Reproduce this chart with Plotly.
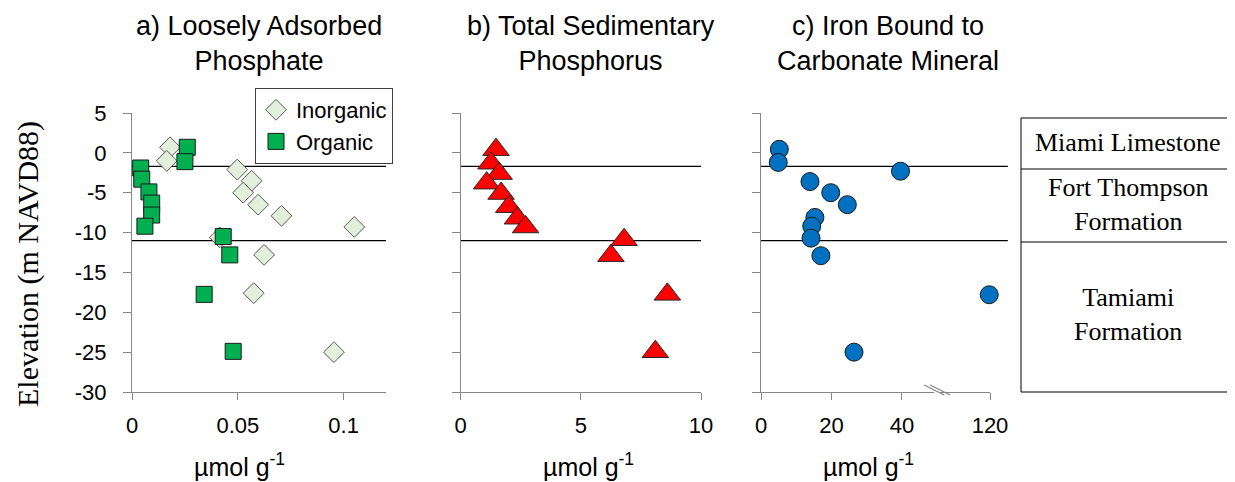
import plotly.graph_objects as go

# the page body adds an 8px margin; the figure is offset by it so screenshot coordinates line up
OFF = 8
W, H = 1235 - OFF, 482 - OFF

# ---------------- data ----------------
elev_a_inorg = [0.7, -1.0, -2.1, -3.5, -5.0, -6.5, -7.9, -9.3, -10.6, -12.8, -17.6, -25.0]
lap_inorg = [0.018, 0.0164, 0.0497, 0.0565, 0.0525, 0.0596, 0.0706, 0.105, 0.0415, 0.0624, 0.0575, 0.0954]
elev_a_org = [0.7, -1.1, -1.9, -3.3, -4.9, -6.3, -7.8, -9.2, -10.5, -12.8, -17.75, -24.9]
lap_org = [0.0261, 0.025, 0.0041, 0.0046, 0.008, 0.0093, 0.0093, 0.0061, 0.0431, 0.0462, 0.0341, 0.0478]

elev_b = [0.4, -1.3, -2.6, -3.8, -5.1, -6.75, -8.2, -9.3, -10.9, -12.9, -17.75, -24.95]
tsp = [1.47, 1.26, 1.6, 1.08, 1.68, 2.0, 2.36, 2.7, 6.8, 6.25, 8.6, 8.1]

elev_c = [0.45, -1.2, -2.3, -3.6, -5.0, -6.5, -8.1, -9.2, -10.7, -12.9, -17.8, -25.0]
fe_carb = [5.2, 4.9, 39.6, 13.9, 19.8, 24.5, 15.3, 14.4, 14.2, 17.0, 119.0, 26.4]

boundaries = [-1.7, -11.0]
formations = ["Miami Limestone", "Fort Thompson<br>Formation", "Tamiami<br>Formation"]
titles = ["a) Loosely Adsorbed<br>Phosphate", "b) Total Sedimentary<br>Phosphorus",
          "c) Iron Bound to<br>Carbonate Mineral"]
y_ticks = [5, 0, -5, -10, -15, -20, -25, -30]
y_ticktext = ["5", "0", "-5", "-10", "-15", "-20", "-25", "-30"]
a_ticks, a_ticktext = [0, 0.05, 0.1], ["0", "0.05", "0.1"]
b_ticks, b_ticktext = [0, 5, 10], ["0", "5", "10"]
c_ticks = [0, 20, 40, 120]

# broken axis for panel c: linear to 50, compressed above
BREAK, TOP, TOP_DISP = 50.0, 120.0, 65.0
def c_map(v):
    if v <= BREAK:
        return v
    return BREAK + (v - BREAK) * (TOP_DISP - BREAK) / (TOP - BREAK)

def px(x):
    return (x - OFF) / W
def py(y):
    return 1 - (y - OFF) / H

SANS = "Liberation Sans, Arial, sans-serif"
SERIF = "Liberation Serif, Times New Roman, serif"
AX = "#868686"

ydom = [py(392), py(113)]
xdoms = [[px(132), px(386)], [px(460.7), px(701)], [px(761), px(990)]]

fig = go.Figure()
fig.add_trace(go.Scatter(x=lap_inorg, y=elev_a_inorg, mode="markers", name="Inorganic",
                         marker=dict(symbol="diamond", size=16, color="#E2EFDA",
                                     line=dict(color="#595959", width=1)),
                         cliponaxis=False, xaxis="x", yaxis="y"))
fig.add_trace(go.Scatter(x=lap_org, y=elev_a_org, mode="markers", name="Organic",
                         marker=dict(symbol="square", size=16, color="#00B050",
                                     line=dict(color="#1a1a1a", width=1)),
                         cliponaxis=False, xaxis="x", yaxis="y"))
fig.add_trace(go.Scatter(x=tsp, y=elev_b, mode="markers", showlegend=False,
                         marker=dict(symbol="triangle-up", size=23, color="#FF0000",
                                     line=dict(color="#262626", width=1)),
                         cliponaxis=False, xaxis="x2", yaxis="y2"))
fig.add_trace(go.Scatter(x=[c_map(v) for v in fe_carb], y=elev_c, mode="markers", showlegend=False,
                         marker=dict(symbol="circle", size=18, color="#0070C0",
                                     line=dict(color="#1a1a1a", width=1)),
                         cliponaxis=False, xaxis="x3", yaxis="y3"))

axis_common = dict(showline=True, linecolor=AX, linewidth=1, showgrid=False, zeroline=False,
                   ticks="outside", tickcolor=AX, tickwidth=1, automargin=False,
                   tickfont=dict(family=SANS, size=22, color="#000000"))

lay = dict(width=W, height=H, margin=dict(l=0, r=0, t=0, b=0, pad=0, autoexpand=False),
           paper_bgcolor="white", plot_bgcolor="white", showlegend=True,
           legend=dict(x=px(255), y=py(88), xanchor="left", yanchor="top",
                       bgcolor="white", bordercolor="#404040", borderwidth=1,
                       font=dict(family=SANS, size=22, color="#000000"),
                       tracegroupgap=0, itemsizing="trace"))

xranges = [[0, 0.12], [0, 10], [0, TOP_DISP]]
for i in range(3):
    sfx = "" if i == 0 else str(i + 1)
    xa = dict(axis_common, domain=xdoms[i], range=xranges[i], anchor="y" + sfx,
              ticklen=7, ticklabelstandoff=7)
    if i == 0:
        xa.update(tickvals=a_ticks, ticktext=a_ticktext)
    elif i == 1:
        xa.update(tickvals=b_ticks, ticktext=b_ticktext)
    else:
        xa.update(tickvals=[c_map(v) for v in c_ticks], ticktext=[str(v) for v in c_ticks])
    ya = dict(axis_common, domain=ydom, range=[-30, 5], anchor="x" + sfx,
              tickvals=y_ticks, ticktext=y_ticktext, ticklen=8,
              ticklabelstandoff=12, showticklabels=(i == 0))
    lay["xaxis" + sfx] = xa
    lay["yaxis" + sfx] = ya

fig.update_layout(**lay)

# boundary lines
ext = [1.0, 1.0, 1.078]
for i in range(3):
    sfx = "" if i == 0 else str(i + 1)
    for b in boundaries:
        fig.add_shape(type="line", xref="x" + sfx + " domain", yref="y" + sfx,
                      x0=0, x1=ext[i], y0=b, y1=b, line=dict(color="#000000", width=1.2),
                      layer="below")

# axis break marks on panel c
bx = xdoms[2][0] + (xdoms[2][1] - xdoms[2][0]) * BREAK / TOP_DISP
fig.add_shape(type="rect", xref="paper", yref="paper", x0=bx - 3 / W, x1=bx + 3 / W,
              y0=py(394), y1=py(390), fillcolor="white", line=dict(width=0))
for off in (-3, 3):
    fig.add_shape(type="line", xref="paper", yref="paper",
                  x0=bx + (off - 10) / W, x1=bx + (off + 10) / W, y0=py(385), y1=py(395),
                  line=dict(color=AX, width=1.2))

# titles
tx = [259, 591, 888]
for i in range(3):
    fig.add_annotation(text=titles[i], xref="paper", yref="paper", x=px(tx[i]), y=py(44),
                       xanchor="center", yanchor="middle", showarrow=False,
                       font=dict(family=SANS, size=27, color="#000000"))

# x axis titles
xt = [239, 588, 868]
for i in range(3):
    fig.add_annotation(text="µmol g<sup>-1</sup>", xref="paper", yref="paper", x=px(xt[i]),
                       y=py(465), xanchor="center", yanchor="middle", showarrow=False,
                       font=dict(family=SANS, size=25, color="#000000"))

# y axis title
fig.add_annotation(text="Elevation (m NAVD88)", xref="paper", yref="paper", x=px(28), y=py(264),
                   textangle=-90, xanchor="center", yanchor="middle", showarrow=False,
                   font=dict(family=SERIF, size=30, color="#000000"))

# formation table
t_left = 1021
rows = [118, 169, 242, 392]
fig.add_shape(type="line", xref="paper", yref="paper", x0=px(t_left), x1=px(t_left),
              y0=py(rows[0]), y1=py(rows[-1]), line=dict(color="#000000", width=1))
for r in rows:
    fig.add_shape(type="line", xref="paper", yref="paper", x0=px(t_left), x1=1.0,
                  y0=py(r), y1=py(r), line=dict(color="#000000", width=1))
ty = [143, 204, 314]
for k in range(3):
    fig.add_annotation(text=formations[k], xref="paper", yref="paper", x=px(1128), y=py(ty[k]),
                       xanchor="center", yanchor="middle", showarrow=False,
                       font=dict(family=SERIF, size=26, color="#000000"))

fig.write_html("out.html")
